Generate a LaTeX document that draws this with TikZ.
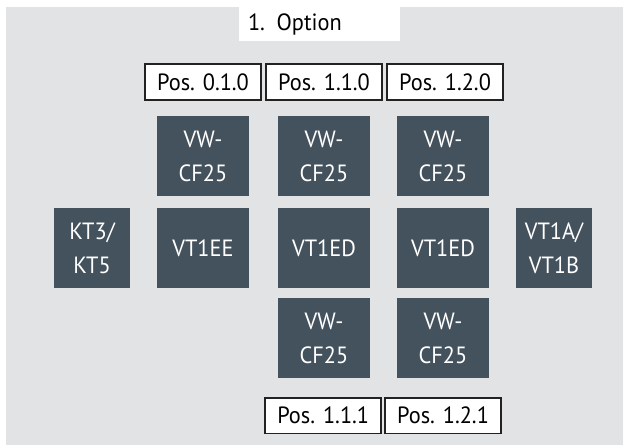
\documentclass[tikz,border=0pt]{standalone}
\usepackage{fontspec}
\setmainfont{PT Sans}[FakeStretch=0.95]
\usetikzlibrary{positioning}

\definecolor{panelgray}{HTML}{E2E3E5}
\definecolor{unitslate}{HTML}{44525D}
\definecolor{posline}{HTML}{222222}

\tikzset{
  unit/.style={fill=unitslate, text=white, inner sep=0pt, align=center,
    minimum width=92pt, minimum height=80pt, font=\fontsize{23.5}{34}\selectfont},
  sideunit/.style={unit, minimum width=76pt},
  posbox/.style={draw=posline, line width=1.6pt, fill=white, inner sep=0pt,
    minimum width=116pt, minimum height=35.5pt, font=\fontsize{23.5}{25}\selectfont}
}

\begin{document}
\begin{tikzpicture}[x=1pt,y=-1pt]
\useasboundingbox (0,0) rectangle (623,445);
\fill[panelgray] (6,7) rectangle (623,445);

% title
\node[fill=white, inner xsep=9pt, inner ysep=0pt, text width=143pt, align=left,
  minimum height=34pt, font=\fontsize{23.5}{25}\selectfont] (option) at (319.5,24) {1. Option};

% upper positions
\foreach \nm/\x/\t in {p010/203/0.1.0, p110/324/1.1.0, p120/445/1.2.0}{
  \node[posbox] (\nm) at (\x,82) {Pos. \t};
}

% units
\foreach \nm/\x/\y/\t in {cfa/203/156/{VW-\\CF25}, cfb/324/156/{VW-\\CF25}, cfc/443/156/{VW-\\CF25},
    vtee/203/248/VT1EE, vtda/324/248/VT1ED, vtdb/443/248/VT1ED,
    cfd/324/338/{VW-\\CF25}, cfe/443/338/{VW-\\CF25}}{
  \node[unit] (\nm) at (\x,\y) {\t};
}
\node[sideunit] (kt) at (92,248) {KT3/\\KT5};
\node[sideunit] (vta) at (554,248) {VT1A/\\VT1B};

% lower positions
\node[posbox] (p111) at (323.2,415.7) {Pos. 1.1.1};
\node[posbox] (p121) at (443,415.7) {Pos. 1.2.1};
\end{tikzpicture}
\end{document}
